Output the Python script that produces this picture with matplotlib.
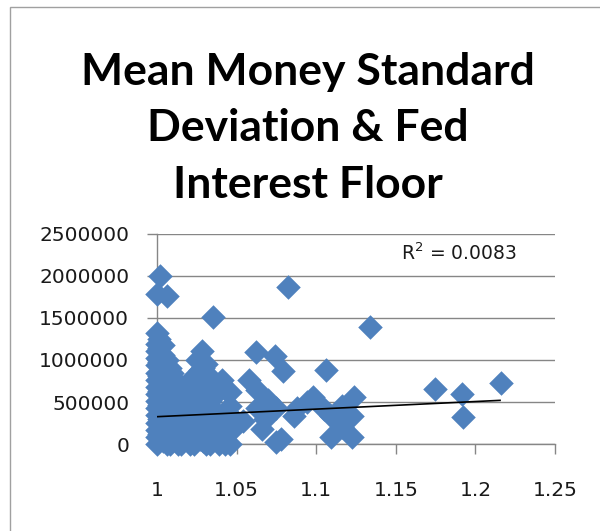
import matplotlib
matplotlib.use("Agg")
import matplotlib.pyplot as plt
from matplotlib.patches import Rectangle

title_text = "Mean Money Standard\nDeviation & Fed\nInterest Floor"
r2_text = "R$^2$ = 0.0083"

x_ticks = [1.0, 1.05, 1.1, 1.15, 1.2, 1.25]
x_tick_labels = ["1", "1.05", "1.1", "1.15", "1.2", "1.25"]
y_ticks = [0, 500000, 1000000, 1500000, 2000000, 2500000]
y_tick_labels = ["0", "500000", "1000000", "1500000", "2000000", "2500000"]

# scatter points, grouped by x column
x_vals = (
    [1.000] * 17
    + [1.002, 1.006]
    + [1.004] * 8
    + [1.008] * 7
    + [1.011] * 6
    + [1.015] * 5
    + [1.019] * 5
    + [1.023] * 6
    + [1.025, 1.028]
    + [1.027] * 6
    + [1.031] * 6
    + [1.035] * 5
    + [1.039] * 3
    + [1.041, 1.046, 1.046, 1.046, 1.047, 1.047, 1.050, 1.054]
    + [1.058, 1.062, 1.063, 1.063, 1.066, 1.068, 1.070, 1.074, 1.075, 1.075, 1.078, 1.079, 1.082]
    + [1.086, 1.088, 1.094, 1.098]
    + [1.105, 1.106, 1.109, 1.109, 1.116, 1.116, 1.1225, 1.1225, 1.124, 1.134]
    + [1.1745, 1.1915, 1.192, 1.216]
    + [1.0015] * 8
    + [1.006] * 7
    + [1.0095] * 6
    + [1.013] * 5
    + [1.017] * 4
    + [1.021] * 5
    + [1.029] * 6
    + [1.033] * 5
    + [1.037] * 3
    + [1.043] * 4
)
y_vals = (
    [0, 85000, 170000, 255000, 340000, 425000, 510000, 595000, 680000, 765000,
     850000, 935000, 1020000, 1105000, 1190000, 1320000, 1780000]
    + [2000000, 1760000]
    + [40000, 210000, 380000, 550000, 720000, 890000, 1060000, 1180000]
    + [0, 125000, 295000, 465000, 635000, 805000, 900000]
    + [60000, 210000, 380000, 550000, 680000, 760000]
    + [0, 130000, 300000, 470000, 640000]
    + [60000, 215000, 385000, 555000, 700000]
    + [0, 130000, 300000, 470000, 640000, 810000]
    + [1000000, 1110000]
    + [60000, 215000, 385000, 555000, 725000, 880000]
    + [0, 130000, 300000, 470000, 640000, 950000]
    + [60000, 215000, 420000, 700000, 1510000]
    + [0, 150000, 300000]
    + [760000, 0, 450000, 620000, 170000, 320000, 260000, 270000]
    + [760000, 1090000, 640000, 430000, 180000, 300000, 520000, 1050000, 20000, 430000, 60000, 870000, 1870000]
    + [330000, 430000, 500000, 560000]
    + [420000, 880000, 80000, 330000, 200000, 450000, 80000, 330000, 560000, 1390000]
    + [655000, 595000, 320000, 726000]
    + [125000, 295000, 465000, 635000, 805000, 975000, 1145000, 1250000]
    + [0, 170000, 340000, 510000, 680000, 850000, 1000000]
    + [40000, 210000, 380000, 550000, 720000, 850000]
    + [0, 170000, 340000, 510000, 680000]
    + [85000, 255000, 425000, 600000]
    + [0, 170000, 340000, 510000, 680000]
    + [40000, 210000, 380000, 550000, 720000, 900000]
    + [0, 170000, 340000, 510000, 800000]
    + [85000, 255000, 600000]
    + [0, 170000, 330000, 650000]
)

# linear trendline endpoints
trend_x = [1.0, 1.216]
trend_y = [325000, 520000]

GRAY = "#868686"
BLUE = "#4F81BD"

fig = plt.figure(figsize=(6.0, 5.31), dpi=100)
fig.patch.set_facecolor("white")

ax = fig.add_axes([157 / 600, 1 - 444 / 531, (555 - 157) / 600, (444 - 234) / 531])
ax.set_xlim(1.0, 1.25)
ax.set_ylim(0, 2500000)

ax.scatter(x_vals, y_vals, marker="D", s=12.5 ** 2, c=BLUE, linewidths=0,
           zorder=3, clip_on=False)
ax.plot(trend_x, trend_y, color="black", lw=1.2, zorder=4, solid_capstyle="butt")

ax.set_xticks(x_ticks)
ax.set_xticklabels(x_tick_labels)
ax.set_yticks(y_ticks)
ax.set_yticklabels(y_tick_labels)

for lab in ax.get_xticklabels() + ax.get_yticklabels():
    lab.set_fontfamily("DejaVu Sans")
    lab.set_fontsize(14.5)
    lab.set_color("#1a1a1a")

ax.tick_params(axis="x", direction="out", length=7, width=1, color=GRAY, pad=20)
ax.tick_params(axis="y", direction="out", length=7, width=1, color=GRAY, pad=13)

ax.yaxis.grid(True, color=GRAY, lw=1)
ax.set_axisbelow(True)
for side in ["top", "right"]:
    ax.spines[side].set_visible(False)
for side in ["left", "bottom"]:
    ax.spines[side].set_color(GRAY)
    ax.spines[side].set_linewidth(1)
    ax.spines[side].set_zorder(2)

ax.text(1.1535, 2270000, r2_text, fontsize=13.5, family="DejaVu Sans",
        color="#1a1a1a", ha="left", va="center")

fig.text(308 / 600, 1 - 128 / 531, title_text, ha="center", va="center",
         fontsize=32, family="Lato", weight="bold", linespacing=1.5,
         color="black")

fig.add_artist(Rectangle((9.5 / 600, -0.1), 2.0, (1 - 6.5 / 531) + 0.1,
                         transform=fig.transFigure, fill=False,
                         edgecolor="#A0A0A0", lw=1))

fig.savefig("out.png", dpi=100)
